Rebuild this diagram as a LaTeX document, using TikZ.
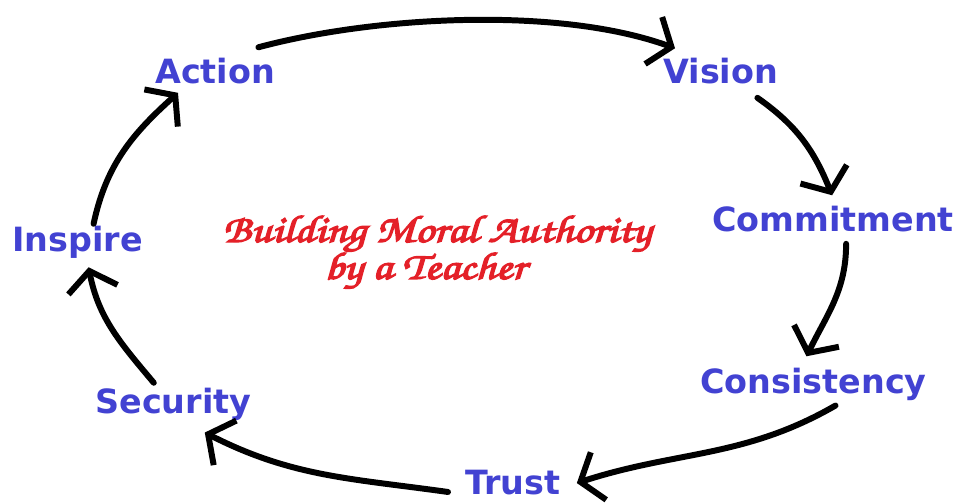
\documentclass[tikz,border=0pt]{standalone}
\usepackage{fontspec}
\usepackage{tikz}
\usetikzlibrary{arrows.meta,calc}
\newfontfamily\labelfont{DejaVu Sans}
\definecolor{labelblue}{RGB}{66,66,210}
\definecolor{titlered}{RGB}{228,32,40}
\newcommand{\scriptface}{\fontencoding{OT1}\fontfamily{pzc}\fontseries{mb}\fontshape{it}\selectfont}
\newcommand{\brushtext}[1]{\special{pdf:literal direct 2 Tr 0.7 w}\scalebox{1.2}[1]{#1}\special{pdf:literal direct 0 Tr}}

\tikzset{
  stage/.style={anchor=base west, inner sep=0pt, text=labelblue, font=\labelfont\bfseries\fontsize{19}{23}\selectfont},
  cyclearrow/.style={black, line width=3.4pt, line cap=round, -{Straight Barb[length=3.8mm,width=10mm]}},
  heading/.style={anchor=base, inner sep=0pt, text=titlered, font=\scriptface\fontsize{22}{26}\selectfont}
}

\begin{document}
\begin{tikzpicture}[x=0.02cm,y=0.02cm]
\useasboundingbox (0,0) rectangle (968,503);
\node[stage] (action) at (155,419) {Action};
\node[stage] (vision) at (663,419) {Vision};
\node[stage] (commitment) at (712,271) {Commitment};
\node[stage] (consistency) at (700,109) {Consistency};
\node[stage] (trust) at (465,8) {Trust};
\node[stage] (security) at (95,89) {Security};
\node[stage] (inspire) at (12,251) {Inspire};
\node[heading] (title) at (437,261) {\brushtext{Building Moral Authority}};
\node[heading] (subtitle) at (425,224) {\brushtext{by a Teacher}};
\draw[cyclearrow] ([shift={(-17,11)}]action.north east) to[out=15,in=160,looseness=0.75] ([shift={(12,10)}]vision.north west);
\draw[cyclearrow] ([shift={(-21,-13)}]vision.south east) to[out=-35,in=112] ([shift={(-1,11)}]commitment.north);
\draw[cyclearrow] ([shift={(13,-11)}]commitment.south) to[out=-90,in=64] ([shift={(-7,12)}]consistency.north);
\draw[cyclearrow] ([shift={(22,-4)}]consistency.south) to[out=-150,in=18] ([shift={(16,0)}]trust.east);
\draw[cyclearrow] ([shift={(-17,3)}]trust.base west) to[out=172,in=-27] ([shift={(31.5,-11)}]security.south);
\draw[cyclearrow] ([shift={(-19.5,5.5)}]security.north) to[out=130,in=-79] ([shift={(11,-8)}]inspire.south);
\draw[cyclearrow] ([shift={(16,2.5)}]inspire.north) to[out=78,in=-138] ([shift={(23,-8)}]action.south west);
\end{tikzpicture}
\end{document}
